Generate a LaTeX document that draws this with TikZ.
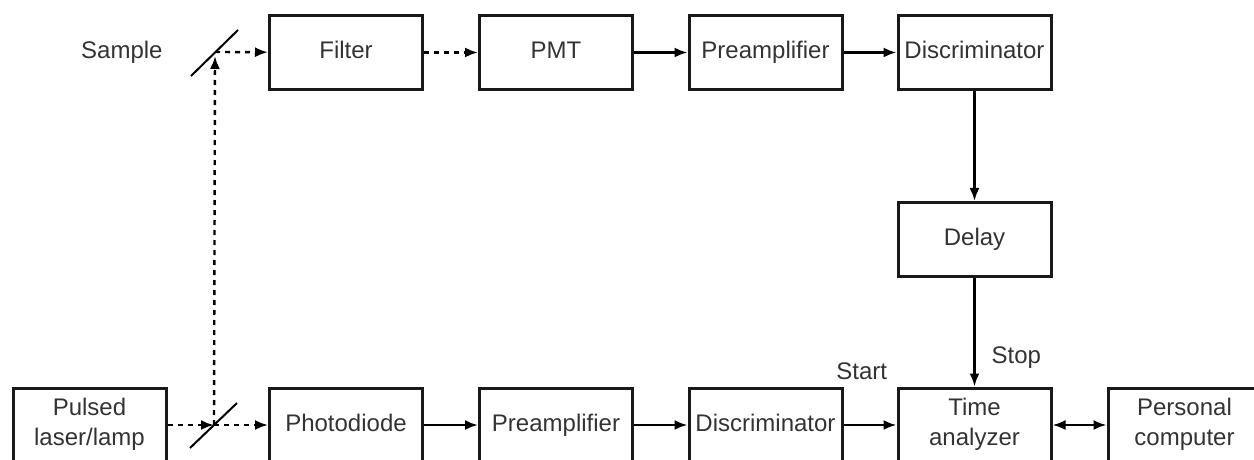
\documentclass[tikz,border=0pt]{standalone}
\usepackage{fontspec}
\setmainfont{Liberation Sans}
\usetikzlibrary{positioning,arrows.meta}

\tikzset{
  blk/.style={draw=black!90,line width=1.5pt,minimum width=76.5pt,minimum height=37pt,
    align=center,inner sep=1pt,font=\fontsize{12}{15}\selectfont,text=black!80,
    execute at begin node={\rule[-3pt]{0pt}{12pt}}},
  sig/.style={line width=1.2pt,-{Latex[length=6.5pt,width=5pt]}},
  beam/.style={sig,dash pattern=on 2.5pt off 2.5pt},
  mirror/.style={line width=1pt},
  lbl/.style={font=\fontsize{12}{15}\selectfont,text=black!80,inner sep=0pt}
}

\begin{document}
\begin{tikzpicture}[x=0.5pt,y=0.5pt,yscale=-1,xscale=1]
\useasboundingbox (0,0) rectangle (1254,460);

% detection arm
\node[blk] (filter) at (346,52.5) {Filter};
\node[blk] (pmt) at (556,52.5) {PMT};
\node[blk] (preA) at (765.5,52.5) {Preamplifier};
\node[blk] (discA) at (974.5,52.5) {Discriminator};
\node[blk] (delay) at (974.5,239.5) {Delay};

% reference arm
\node[blk] (laser) at (89.5,425) {Pulsed\\laser/lamp};
\node[blk] (photo) at (346,425) {Photodiode};
\node[blk] (preB) at (556,425) {Preamplifier};
\node[blk] (discB) at (765.5,425) {Discriminator};
\node[blk] (tac) at (974.5,425) {Time\\analyzer};
\node[blk] (pc) at (1184.5,425) {Personal\\computer};

% beam splitter and sample
\coordinate (mbot) at (214,425);
\coordinate (mtop) at (215,52);
\draw[mirror] (190,448) -- (237,403);
\draw[mirror] (191,76) -- (238,30);
\node[lbl, left=26pt of mtop] (sample) {Sample};

% optical paths
\draw[beam] (laser) -- (mbot);
\draw[beam] (mbot) -- (photo);
\draw[beam, shorten >=2pt] (mbot) -- (mtop);
\draw[beam] (mtop) -- (filter);
\draw[beam] (filter) -- (pmt);

% signal paths
\draw[sig] (pmt) -- (preA);
\draw[sig] (preA) -- (discA);
\draw[sig] (discA) -- (delay);
\draw[sig] (delay) -- node[lbl, pos=0.73, right=8pt] {Stop} (tac);
\draw[sig] (photo) -- (preB);
\draw[sig] (preB) -- (discB);
\draw[sig] (discB) -- (tac);
\node[lbl, above left=3pt and 4.5pt of tac.north west] (start) {Start};
\draw[sig, {Latex[length=6.5pt,width=5pt]}-{Latex[length=6.5pt,width=5pt]}] (tac) -- (pc);

\end{tikzpicture}
\end{document}
